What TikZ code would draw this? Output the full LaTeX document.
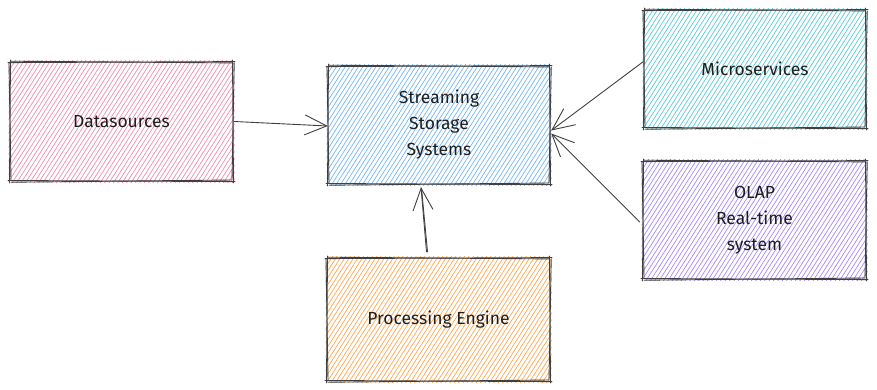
\documentclass[tikz,border=0pt]{standalone}
\usepackage{fontspec}
\setmainfont{Fira Sans}
\usetikzlibrary{arrows.meta}

\definecolor{inkc}{HTML}{1E1E1E}
\definecolor{pinkh}{HTML}{EE82A8}
\definecolor{blueh}{HTML}{66B0F2}
\definecolor{cyanh}{HTML}{48C6D6}
\definecolor{violeth}{HTML}{9E7EF2}
\definecolor{orangeh}{HTML}{FF9E3D}

\tikzset{
  boxlabel/.style={align=center, font=\fontsize{17.5}{26}\selectfont, text=inkc},
  edge/.style={draw=inkc!85, line width=0.9pt, line cap=round},
  conn/.style={edge, -{Straight Barb[length=22pt,width=20pt,line width=0.9pt]}},
  hatch/.style={line width=0.7pt, draw opacity=0.9},
}

% hand-drawn box: name, x1, y1, x2, y2, hatch colour, label
\newcommand{\sketchbox}[7]{%
  \pgfmathsetmacro{\hh}{#5-#3}%
  \pgfmathsetmacro{\dx}{0.66*\hh}%
  \pgfmathsetmacro{\ww}{#4-#2+\dx+6}%
  \begin{scope}
    \clip (#2-1.5,#3-1.5) rectangle (#4+1.5,#5+1.5);
    \foreach \k in {0,4.4,...,\ww}
      \draw[hatch,#6] (#2-\dx-3+\k,#5+2) -- (#2-3+\k,#3-2);
  \end{scope}
  \draw[edge] (#2-2,#3+0.6) -- (#4+2,#3-0.4);
  \draw[edge] (#2+1,#3-0.8) -- (#4-1,#3+0.9);
  \draw[edge] (#2-2,#5-0.5) -- (#4+2,#5+0.6);
  \draw[edge] (#2+1,#5+1.2) -- (#4-1,#5-1);
  \draw[edge] (#2+0.5,#3-2) -- (#2-0.5,#5+2);
  \draw[edge] (#2-1,#3+1) -- (#2+1,#5-1);
  \draw[edge] (#4-0.5,#3-2) -- (#4+0.5,#5+2);
  \draw[edge] (#4+1.2,#3+1) -- (#4-1,#5-1);
  \node[boxlabel, minimum width={#4-#2}, minimum height={#5-#3}]
    (#1) at ({(#2+#4)/2},{(#3+#5)/2}) {#7};
}

\begin{document}
\begin{tikzpicture}[x=1pt,y=-1pt]
\useasboundingbox[fill=white] (0,0) rectangle (877,389);

\sketchbox{ds}{10}{62}{233}{181}{pinkh}{Datasources}
\sketchbox{sss}{328}{66}{550}{184}{blueh}{Streaming\\Storage\\Systems}
\sketchbox{ms}{644}{10}{866}{128}{cyanh}{Microservices}
\sketchbox{olap}{643}{161}{866}{279}{violeth}{OLAP\\Real-time\\system}
\sketchbox{pe}{327}{258}{550}{381}{orangeh}{Processing Engine}

% connectors into the streaming storage box
\draw[conn] ([xshift=1pt]ds.east) -- ([yshift=-1pt]sss.west);
\draw[conn] ([xshift=-12pt,yshift=6pt]pe.north) -- ([xshift=-18pt,yshift=-3pt]sss.south);
\draw[edge] ([xshift=-11pt,yshift=6pt]pe.north) -- ([xshift=-17.5pt,yshift=-4pt]sss.south);
\draw[conn] ([xshift=-1pt,yshift=7pt]ms.west) -- ([xshift=1pt,yshift=-5.5pt]sss.east);
\draw[conn] ([xshift=-3pt,yshift=-2pt]olap.west) -- ([xshift=1pt,yshift=-8.5pt]sss.east);
\end{tikzpicture}
\end{document}
